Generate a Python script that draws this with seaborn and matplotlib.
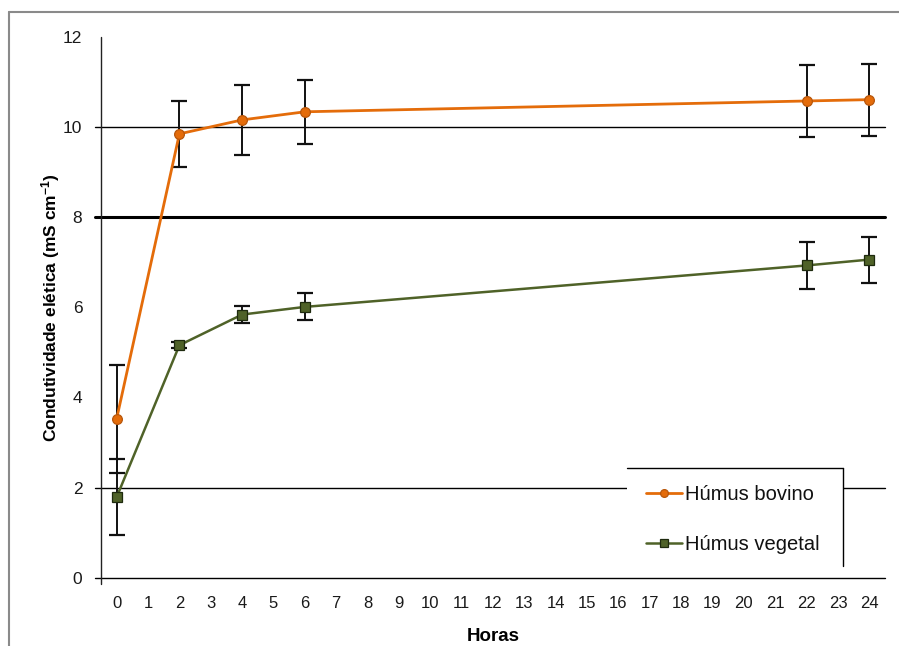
import numpy as np
import pandas as pd
import matplotlib
matplotlib.use("Agg")
import matplotlib.pyplot as plt
import seaborn as sns
from matplotlib.patches import Rectangle
from matplotlib.lines import Line2D

# Electrical conductivity (mS cm-1) over time, mean and standard deviation
hours = [0, 2, 4, 6, 22, 24]
bovino_mean = [3.53, 9.85, 10.16, 10.34, 10.58, 10.61]
bovino_sd = [1.20, 0.74, 0.77, 0.71, 0.79, 0.80]
vegetal_mean = [1.79, 5.16, 5.84, 6.01, 6.93, 7.06]
vegetal_sd = [0.84, 0.06, 0.19, 0.30, 0.53, 0.51]

series_names = ["Húmus bovino", "Húmus vegetal"]
hour_ticks = list(range(25))
hour_labels = [str(h) for h in hour_ticks]
y_ticks = [0, 2, 4, 6, 8, 10, 12]

df = pd.DataFrame({
    "Horas": hours * 2,
    "CE": bovino_mean + vegetal_mean,
    "SD": bovino_sd + vegetal_sd,
    "Tratamento": [series_names[0]] * len(hours) + [series_names[1]] * len(hours),
})

sns.set_theme(style="white")
plt.rcParams["font.family"] = ["Liberation Sans", "DejaVu Sans"]
plt.rcParams["mathtext.fontset"] = "custom"
plt.rcParams["mathtext.rm"] = "Liberation Sans:bold"
plt.rcParams["mathtext.it"] = "Liberation Sans:bold"
plt.rcParams["mathtext.bf"] = "Liberation Sans:bold"

W, H = 899, 646
fig = plt.figure(figsize=(W / 100, H / 100), dpi=100)
fig.patch.set_facecolor("white")

x0, x1 = 101, 885
y_top, y_bot = 37, 577.7
ax = fig.add_axes([x0 / W, 1 - y_bot / H, (x1 - x0) / W, (y_bot - y_top) / H])
ax.set_facecolor("white")

styles = {
    series_names[0]: dict(color="#E46C0A", marker="o", ms=7.0, mec="#B8560A", lw=2.0),
    series_names[1]: dict(color="#4F6228", marker="s", ms=7.5, mec="#1E2A0E", lw=1.8),
}

# error bars below the markers
for name in series_names:
    sub = df[df["Tratamento"] == name]
    ax.errorbar(sub["Horas"], sub["CE"], yerr=sub["SD"], fmt="none",
                ecolor="#111111", elinewidth=1.4, capsize=5.5, capthick=1.6,
                zorder=3)

for name in series_names:
    st = styles[name]
    sns.lineplot(data=df[df["Tratamento"] == name], x="Horas", y="CE",
                 color=st["color"], marker=st["marker"], markersize=st["ms"],
                 markeredgecolor=st["mec"], markeredgewidth=0.9,
                 linewidth=st["lw"], label=name, ax=ax, zorder=4,
                 errorbar=None)

ax.set_xlim(-0.5, 24.5)
ax.set_ylim(0, 12)

# horizontal reference lines, extending a little left of the value axis
ext = 6 / (x1 - x0)
for yv, lw in [(0, 1.0), (2, 1.0), (10, 1.0), (8, 2.2)]:
    ax.axhline(yv, xmin=-ext, xmax=1, color="black", lw=lw, clip_on=False, zorder=2)
ax.axvline(-0.5, ymin=-6 / (y_bot - y_top), ymax=1, color="#222222", lw=1.0,
           clip_on=False, zorder=2)

for s in ax.spines.values():
    s.set_visible(False)

ax.set_xticks(hour_ticks)
ax.set_xticklabels(hour_labels)
ax.set_xticks(np.arange(1.5, 24, 1), minor=True)
ax.tick_params(axis="x", which="major", length=0, pad=13, labelsize=12,
               labelcolor="#1a1a1a")
ax.tick_params(axis="x", which="minor", length=4.3, width=1.0, color="black",
               direction="out")
ax.set_yticks(y_ticks)
ax.set_yticklabels([str(v) for v in y_ticks])
ax.tick_params(axis="y", which="major", length=0, pad=13.5, labelsize=12.5,
               labelcolor="#1a1a1a")
ax.grid(False)

ax.set_xlabel("Horas", fontsize=13.5, fontweight="bold", color="black")
ax.xaxis.set_label_coords(0.5, -0.093)
ax.set_ylabel(r"Condutividade elética (mS cm$^{-1}$)", fontsize=12.5,
              fontweight="bold", color="black")
ax.yaxis.set_label_coords(-0.050, 0.50)

# legend panel: white box with top and right border
lx0, lx1, ly0, ly1 = 627, 843, 468, 566
ax.add_patch(Rectangle((lx0 / W, 1 - ly1 / H), (lx1 - lx0) / W, (ly1 - ly0) / H,
                       transform=fig.transFigure, facecolor="white",
                       edgecolor="none", clip_on=False, zorder=5))
ax.add_line(Line2D([lx0 / W, lx1 / W], [1 - ly0 / H, 1 - ly0 / H],
                   transform=fig.transFigure, color="black", lw=1.0,
                   clip_on=False, zorder=6))
ax.add_line(Line2D([lx1 / W, lx1 / W], [1 - ly0 / H, 1 - ly1 / H],
                   transform=fig.transFigure, color="black", lw=1.0,
                   clip_on=False, zorder=6))

handles, labels = ax.get_legend_handles_labels()
leg = ax.legend(handles, labels, loc="upper left",
                bbox_to_anchor=(646 / W, 1 - 485 / H),
                bbox_transform=fig.transFigure, frameon=False, fontsize=14.5,
                handlelength=1.8, handletextpad=0.15, labelspacing=1.55,
                borderpad=0, borderaxespad=0, markerscale=0.8)
leg.set_zorder(7)
for t in leg.get_texts():
    t.set_color("#111111")

# outer chart border
fig.add_artist(Line2D([9 / W, 9 / W], [0, 1 - 12 / H], transform=fig.transFigure,
                      color="#8a8a8a", lw=1.5))
fig.add_artist(Line2D([9 / W, 1], [1 - 12 / H, 1 - 12 / H],
                      transform=fig.transFigure, color="#8a8a8a", lw=1.5))

fig.savefig("out.png", dpi=100)
